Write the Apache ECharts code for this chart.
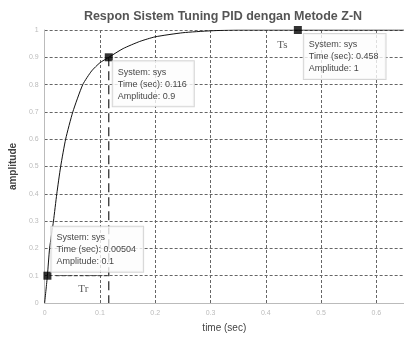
<!DOCTYPE html>
<html>
<head>
<meta charset="utf-8">
<script src="https://cdn.jsdelivr.net/npm/echarts@6/dist/echarts.min.js"></script>
<style>
  html, body { margin: 0; padding: 0; background: #fff; }
  #chart { width: 404px; height: 338px; }
</style>
</head>
<body>
<div id="chart"></div>
<script>
// step response
const times = [0, 0.005, 0.009, 0.016, 0.022, 0.029, 0.038, 0.051, 0.069, 0.085, 0.1, 0.116,
  0.142, 0.172, 0.2, 0.25, 0.3, 0.35, 0.4, 0.458, 0.5, 0.55, 0.6, 0.65];
const amps = [0, 0.1, 0.2, 0.3, 0.4, 0.5, 0.6, 0.7, 0.8, 0.85, 0.88, 0.9,
  0.932, 0.958, 0.975, 0.99, 0.997, 1, 1, 1, 1, 1, 1, 1];

// data tips
const tipTimes = [0.00504, 0.116, 0.458];
const tipAmps = [0.1, 0.9, 1];
const tipTimeLabels = ['0.00504', '0.116', '0.458'];
const tipAmpLabels = ['0.1', '0.9', '1'];

// annotation text
const notes = ['Tr', 'Ts'];
const noteTimes = [0.07, 0.43];
const noteAmps = [0.05, 0.945];

const chart = echarts.init(document.getElementById('chart'));

const font = 'Liberation Sans, Arial, sans-serif';
const gridLine = { show: true, lineStyle: { color: '#666', type: [3, 2], width: 1 } };

const tipLabel = {
  show: true,
  formatter: p => 'System: sys\nTime (sec): ' + tipTimeLabels[p.dataIndex] +
    '\nAmplitude: ' + tipAmpLabels[p.dataIndex],
  fontFamily: font, fontSize: 9, lineHeight: 12, color: '#111',
  backgroundColor: '#fdfdfd', borderColor: '#ccc', borderWidth: 1,
  padding: [5, 7, 4, 5]
};

const option = {
  backgroundColor: '#fff',
  animation: false,
  title: {
    text: 'Respon Sistem Tuning PID dengan Metode Z-N',
    left: 218, top: 5, textAlign: 'center',
    textStyle: { fontFamily: font, fontSize: 12.5, fontWeight: 'bold', color: '#555' }
  },
  grid: { left: 42, top: 30, width: 364, height: 277 },
  xAxis: {
    type: 'value', min: 0, max: 0.65, interval: 0.1,
    name: 'time (sec)', nameLocation: 'middle', nameGap: 20,
    nameTextStyle: { fontFamily: font, fontSize: 10, color: '#444' },
    axisLine: { show: true, lineStyle: { color: '#bbb' } },
    axisTick: { show: false },
    axisLabel: { fontFamily: font, fontSize: 7, color: '#bbb', margin: 7, showMaxLabel: false },
    splitLine: gridLine
  },
  yAxis: {
    type: 'value', min: 0, max: 1, interval: 0.1,
    name: 'amplitude', nameLocation: 'middle', nameGap: 26,
    nameTextStyle: { fontFamily: font, fontSize: 10, color: '#444', fontWeight: 'bold' },
    axisLine: { show: true, lineStyle: { color: '#bbb' } },
    axisTick: { show: false },
    axisLabel: { fontFamily: font, fontSize: 7, color: '#bbb', margin: 6 },
    splitLine: gridLine
  },
  series: [
    {
      type: 'line',
      data: times.map((t, i) => [t, amps[i]]),
      smooth: 0.2,
      showSymbol: false,
      lineStyle: { color: '#111', width: 1 },
      z: 3
    },
    {
      // rise time guides
      type: 'line',
      data: [[tipTimes[1], tipAmps[1]], [tipTimes[1], 0]],
      showSymbol: false,
      lineStyle: { color: '#222', width: 1.2, type: [9, 5] },
      z: 2
    },
    {
      type: 'line',
      data: [[0.02, tipAmps[0]], [tipTimes[1], tipAmps[0]]],
      showSymbol: false,
      lineStyle: { color: '#333', width: 1, type: [4, 2] },
      z: 2
    },
    {
      type: 'scatter',
      data: [
        { value: [tipTimes[0], tipAmps[0]], label: { position: [8, -45] } },
        { value: [tipTimes[1], tipAmps[1]], label: { position: [8, 8] } },
        { value: [tipTimes[2], tipAmps[2]], label: { position: [10, 8] } }
      ],
      symbol: 'rect', symbolSize: 8,
      itemStyle: { color: '#000' },
      label: tipLabel,
      z: 5
    },
    {
      type: 'scatter',
      data: noteTimes.map((t, i) => [t, noteAmps[i]]),
      symbolSize: 0,
      label: {
        show: true, position: 'inside',
        formatter: p => notes[p.dataIndex],
        fontFamily: 'Liberation Serif, Times New Roman, serif', fontSize: 11, color: '#333'
      },
      z: 4
    }
  ]
};

chart.setOption(option);
</script>
</body>
</html>
